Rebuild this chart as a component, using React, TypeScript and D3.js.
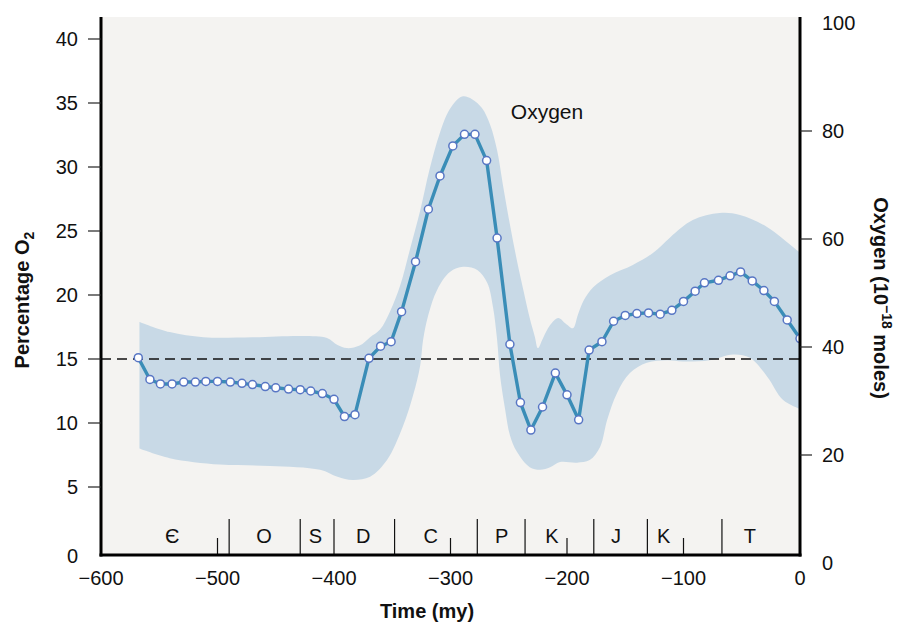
import React from "react";
import * as d3 from "d3";

// Oxygen history through the Phanerozoic: model curve with its uncertainty envelope
const SERIES_T = [-568, -558, -549, -539, -529, -519, -510, -500, -489, -479, -470, -459, -450, -439, -429, -420, -410, -400, -391, -382, -370, -360, -351, -342, -330, -319, -309, -298, -288, -279, -269, -260, -249, -240, -231, -221, -210, -200, -190, -181, -170, -160, -150, -140, -130, -120, -110, -100, -90, -82, -70, -60, -51, -41, -31, -22, -11, 0];
const SERIES_O2 = [15.1, 13.4, 13.05, 13.05, 13.2, 13.2, 13.25, 13.25, 13.2, 13.1, 13.0, 12.85, 12.75, 12.65, 12.6, 12.5, 12.3, 11.85, 10.5, 10.65, 15.05, 16.0, 16.35, 18.7, 22.6, 26.7, 29.3, 31.65, 32.55, 32.55, 30.5, 24.45, 16.15, 11.6, 9.45, 11.25, 13.9, 12.2, 10.25, 15.7, 16.35, 17.95, 18.4, 18.55, 18.6, 18.5, 18.8, 19.5, 20.3, 20.95, 21.15, 21.5, 21.8, 21.1, 20.35, 19.5, 18.05, 16.6];

// Upper edge of the envelope
const BAND_UP_T = [-567, -541, -512, -470, -427, -406, -397, -389, -378, -369, -360.5, -352, -343, -335, -326, -318, -309, -300, -290, -281.5, -273, -266, -260, -255, -249, -243, -237, -232, -227.5, -225, -220.5, -214.5, -207.5, -201, -195, -190.5, -185.5, -177.5, -163, -143.5, -126, -111.5, -92, -69, -51.5, -28, -6, 0];
const BAND_UP_V = [17.9, 17.1, 16.7, 16.7, 16.8, 16.65, 16.1, 15.85, 16.05, 16.7, 17.3, 18.7, 20.8, 23.5, 26.6, 29.8, 32.7, 34.6, 35.5, 35.3, 34.6, 33.3, 31.3, 28.6, 25.5, 22.7, 20.2, 18.2, 16.7, 15.85, 16.65, 17.65, 18.2, 17.75, 17.4, 18.5, 19.6, 20.6, 21.55, 22.35, 23.3, 24.5, 25.85, 26.4, 26.25, 25.3, 23.75, 23.3];

// Lower edge of the envelope
const BAND_LO_T = [-567, -541, -498, -455, -412, -397, -384, -369, -354.5, -341, -332, -326, -323.5, -319, -311.5, -300.5, -289, -277, -268.5, -263.5, -260, -257.5, -253, -249, -243, -232, -223, -214.5, -206, -191.5, -180.5, -171.5, -165.5, -157, -146, -131.5, -114, -100.5, -77.5, -57.5, -43, -28, -14.5, 0];
const BAND_LO_V = [8.0, 7.25, 6.75, 6.65, 6.35, 5.8, 5.55, 5.8, 7.1, 9.7, 12.2, 14.5, 16.5, 18.45, 20.4, 21.8, 22.2, 21.95, 20.95, 19.05, 16.5, 13.75, 11.0, 9.05, 7.75, 6.55, 6.35, 6.55, 6.95, 6.9, 7.1, 8.15, 10.25, 12.35, 13.9, 14.7, 14.9, 14.8, 14.9, 15.35, 15.1, 13.6, 11.8, 11.1];

// Geologic periods
const PERIOD_LABELS = ["Є", "O", "S", "D", "C", "P", "K", "J", "K", "T"];
const PERIOD_LABEL_T = [-539, -460, -416, -375, -317, -256, -213, -158, -117, -43];
const PERIOD_BOUNDS = [-490, -429, -400, -348, -277, -236, -177, -131, -67];

const X_TICKS = [-600, -500, -400, -300, -200, -100, 0];
const X_INNER_TICKS = [-500, -300, -200, -100];
const LEFT_TICKS = [0, 5, 10, 15, 20, 25, 30, 35, 40];
const RIGHT_TICKS = [0, 20, 40, 60, 80, 100];
const REFERENCE_O2 = 15;

const FONT = "'Liberation Sans', Arial, Helvetica, sans-serif";

export default function App() {
  const left = 101;
  const right = 800;
  const top = 17;
  const bottom = 555;

  const x = d3.scaleLinear().domain([-600, 0]).range([left, right]);
  const yL = d3.scaleLinear().domain([0, 40]).range([551, 39]);
  const yR = d3.scaleLinear().domain([0, 100]).range([563, 23]);

  const series = SERIES_T.map((t, i) => [t, SERIES_O2[i]] as [number, number]);
  const upper = BAND_UP_T.map((t, i) => [t, BAND_UP_V[i]] as [number, number]);
  const lower = BAND_LO_T.map((t, i) => [t, BAND_LO_V[i]] as [number, number]).reverse();

  const smooth = d3
    .line<[number, number]>()
    .x((d) => x(d[0]))
    .y((d) => yL(d[1]))
    .curve(d3.curveCatmullRom.alpha(0.5));

  const bandPath =
    (smooth(upper) as string) + (smooth(lower) as string).replace(/^M/, "L") + "Z";

  const linePath = d3
    .line<[number, number]>()
    .x((d) => x(d[0]))
    .y((d) => yL(d[1]))(series) as string;

  const minus = (v: number) => (v < 0 ? "\u2212" + Math.abs(v) : String(v));

  return (
    <svg width={898} height={623} style={{ display: "block", position: "absolute", left: 0, top: 0 }} fontFamily={FONT}>
      <rect x={0} y={0} width={898} height={623} fill="#ffffff" />
      <defs>
        <clipPath id="plotClip">
          <rect x={left} y={top} width={right - left} height={bottom - top} />
        </clipPath>
      </defs>
      <rect x={left} y={top} width={right - left} height={bottom - top} fill="#f4f3f1" />

      <g clipPath="url(#plotClip)">
        <path d={bandPath} fill="#c8d9e6" />
        <line
          x1={left}
          x2={right}
          y1={yL(REFERENCE_O2)}
          y2={yL(REFERENCE_O2)}
          stroke="#111"
          strokeWidth={1.3}
          strokeDasharray="10,6"
        />
        <path d={linePath} fill="none" stroke="#3a8db7" strokeWidth={3.4} strokeLinejoin="round" />
        {series.map((d, i) => (
          <circle key={i} cx={x(d[0])} cy={yL(d[1])} r={4} fill="#ffffff" stroke="#5876c4" strokeWidth={1.5} />
        ))}
      </g>

      <text x={547} y={119} fontSize={21} textAnchor="middle" fill="#111">
        Oxygen
      </text>

      {/* period boundaries and inner ticks */}
      {PERIOD_BOUNDS.map((t, i) => (
        <line key={"b" + i} x1={x(t)} x2={x(t)} y1={519} y2={bottom} stroke="#111" strokeWidth={1.2} />
      ))}
      {X_INNER_TICKS.map((t, i) => (
        <line key={"it" + i} x1={x(t)} x2={x(t)} y1={538} y2={bottom} stroke="#111" strokeWidth={1.2} />
      ))}
      {PERIOD_LABELS.map((s, i) => (
        <text key={"p" + i} x={x(PERIOD_LABEL_T[i])} y={543} fontSize={20} textAnchor="middle" fill="#111">
          {s}
        </text>
      ))}

      {/* axis frame */}
      <line x1={left} x2={left} y1={top} y2={bottom + 1.5} stroke="#000" strokeWidth={3} />
      <line x1={right} x2={right} y1={top} y2={bottom + 1.5} stroke="#000" strokeWidth={3} />
      <line x1={left - 1.5} x2={right + 1.5} y1={bottom} y2={bottom} stroke="#000" strokeWidth={3} />

      {/* left axis */}
      {LEFT_TICKS.map((v) => (
        <g key={"l" + v}>
          {v > 0 && <line x1={88} x2={left} y1={yL(v)} y2={yL(v)} stroke="#222" strokeWidth={1.2} />}
          <text x={78} y={v === 0 ? 563 : yL(v) + 7} fontSize={20} textAnchor="end" fill="#111">
            {v}
          </text>
        </g>
      ))}

      {/* right axis */}
      {RIGHT_TICKS.map((v) => (
        <g key={"r" + v}>
          {v > 0 && v < 100 && <line x1={right} x2={812} y1={yR(v)} y2={yR(v)} stroke="#222" strokeWidth={1.2} />}
          <text x={822} y={yR(v) + 7} fontSize={20} textAnchor="start" fill="#111">
            {v}
          </text>
        </g>
      ))}

      {/* bottom axis labels */}
      {X_TICKS.map((t) => (
        <text key={"x" + t} x={x(t)} y={585} fontSize={20} textAnchor="middle" fill="#111">
          {minus(t)}
        </text>
      ))}

      <text x={427} y={618} fontSize={20} fontWeight="bold" textAnchor="middle" fill="#111">
        Time (my)
      </text>

      <text transform="translate(29,300) rotate(-90)" fontSize={20} fontWeight="bold" textAnchor="middle" fill="#111">
        Percentage O<tspan fontSize={14} dy={5}>2</tspan>
      </text>

      <text transform="translate(874,298) rotate(90)" fontSize={20} fontWeight="bold" textAnchor="middle" fill="#111">
        Oxygen (10<tspan fontSize={14} dy={-8}>−18</tspan>
        <tspan dy={8}> moles)</tspan>
      </text>
    </svg>
  );
}
